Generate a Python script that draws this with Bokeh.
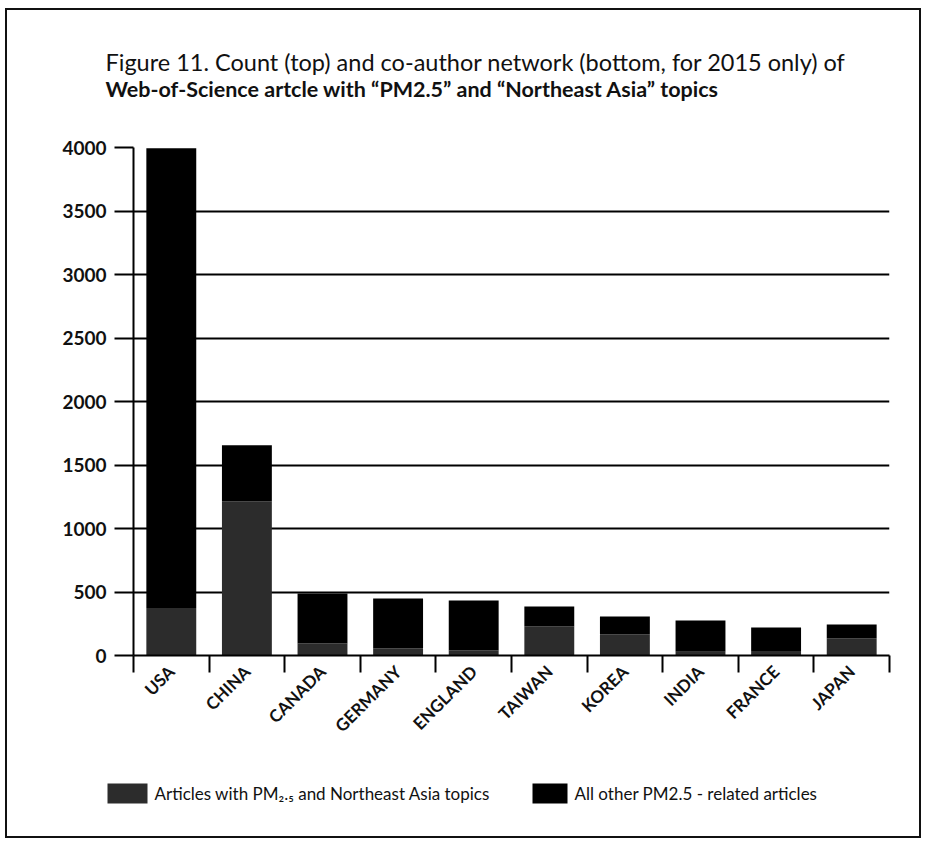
import numpy as np
from math import pi
from bokeh.plotting import figure
from bokeh.models import ColumnDataSource, FixedTicker, Title, Range1d
from bokeh.core.properties import value
from bokeh.layouts import column
from bokeh.embed import file_html
from bokeh.resources import INLINE

# ---- data ----
categories = ["USA", "CHINA", "CANADA", "GERMANY", "ENGLAND",
              "TAIWAN", "KOREA", "INDIA", "FRANCE", "JAPAN"]
ne_asia = [375, 1215, 95, 55, 40, 230, 165, 30, 35, 135]
totals = [3995, 1655, 488, 449, 433, 386, 307, 276, 220, 244]
other = [t - n for t, n in zip(totals, ne_asia)]
y_ticks = [0, 500, 1000, 1500, 2000, 2500, 3000, 3500, 4000]
series_labels = ["Articles with PM\u2082.\u2085 and Northeast Asia topics",
                 "All other PM2.5 - related articles"]
series_colors = ["#2c2c2c", "#000000"]

FONT = "Lato"
BORDER = "2px solid #111111"

x_pos = np.arange(len(categories)) + 0.5
src = ColumnDataSource(dict(x=x_pos, ne=ne_asia, other=other))

p = figure(width=912, height=755, output_backend="svg", toolbar_location=None,
           x_range=Range1d(0, len(categories)), y_range=Range1d(0, 4000),
           min_border_left=126, min_border_right=30, min_border_top=137,
           min_border_bottom=110)
p.outline_line_color = None
p.background_fill_color = "white"
p.border_fill_color = "white"

rs = p.vbar_stack(["ne", "other"], x="x", width=0.66, source=src,
                  color=series_colors, line_color=None)

# y axis
p.yaxis.ticker = FixedTicker(ticks=y_ticks)
p.yaxis.axis_line_color = "black"
p.yaxis.axis_line_width = 2
p.yaxis.major_tick_line_color = "black"
p.yaxis.major_tick_line_width = 2
p.yaxis.major_tick_out = 19
p.yaxis.major_tick_in = 0
p.yaxis.minor_tick_line_color = None
p.yaxis.major_label_standoff = 8
p.yaxis.major_label_text_font = FONT
p.yaxis.major_label_text_font_style = "bold"
p.yaxis.major_label_text_font_size = "19px"
p.yaxis.major_label_text_color = "#111111"

# x axis: boundary ticks as minor ticks, labels at centres
p.xaxis.ticker = FixedTicker(ticks=list(x_pos),
                             minor_ticks=list(range(len(categories) + 1)))
p.xaxis.major_label_overrides = {float(x): c for x, c in zip(x_pos, categories)}
p.xaxis.major_tick_line_color = None
p.xaxis.major_tick_out = 0
p.xaxis.major_tick_in = 0
p.xaxis.minor_tick_line_color = "black"
p.xaxis.minor_tick_line_width = 2
p.xaxis.minor_tick_out = 17
p.xaxis.minor_tick_in = 0
p.xaxis.axis_line_color = "black"
p.xaxis.axis_line_width = 2
p.xaxis.major_label_orientation = pi / 4
p.xaxis.major_label_standoff = -4
p.xaxis.major_label_text_font = FONT
p.xaxis.major_label_text_font_style = "bold"
p.xaxis.major_label_text_font_size = "17px"
p.xaxis.major_label_text_color = "#111111"

# grid
p.xgrid.grid_line_color = None
p.ygrid.ticker = FixedTicker(ticks=y_ticks)
p.ygrid.grid_line_color = "black"
p.ygrid.grid_line_width = 2

# titles (later added = further from frame)
spacer = Title(text=" ", text_font_size="12px", standoff=32)
t2 = Title(text="Web-of-Science artcle with \u201cPM2.5\u201d and \u201cNortheast Asia\u201d topics",
           align="left", text_font=FONT, text_font_style="bold",
           text_font_size="21.5px", text_color="#111111", offset=-28, standoff=-5)
t1 = Title(text="Figure 11. Count (top) and co-author network (bottom, for 2015 only) of",
           align="left", text_font=FONT, text_font_style="normal",
           text_font_size="23.5px", text_color="#111111", offset=-28, standoff=2)
p.add_layout(spacer, "above")
p.add_layout(t2, "above")
p.add_layout(t1, "above")

# legend strip below the chart (pixel coordinates of the strip), separate root
LW, LH = 912, 71
lf = figure(width=LW, height=LH, output_backend="svg", toolbar_location=None,
            x_range=Range1d(0, LW), y_range=Range1d(0, LH),
            min_border=0, min_border_left=0, min_border_right=0,
            min_border_top=0, min_border_bottom=0)
lf.axis.visible = False
lf.grid.visible = False
lf.outline_line_color = None
lf.border_fill_color = "white"
lf.background_fill_color = "white"
sw_left = [100, 525]
sw_w = [40, 35]
lf.quad(left=sw_left, right=[l + w for l, w in zip(sw_left, sw_w)],
        bottom=[33, 33], top=[53, 53], fill_color=series_colors, line_color=None)
lf.text(x=[l + w + 7 for l, w in zip(sw_left, sw_w)], y=[43, 43], text=series_labels,
        text_font=value(FONT), text_font_size="17px", text_color="#111111",
        text_baseline="middle", text_align="left")

top_part = column(p, styles={"border-left": BORDER, "border-right": BORDER,
                             "border-top": BORDER, "margin-left": "5px",
                             "margin-top": "8px"})
bottom_part = column(lf, styles={"border-left": BORDER, "border-right": BORDER,
                                 "border-bottom": BORDER, "margin-left": "5px"})

open("out.html", "w").write(file_html([top_part, bottom_part], INLINE))
